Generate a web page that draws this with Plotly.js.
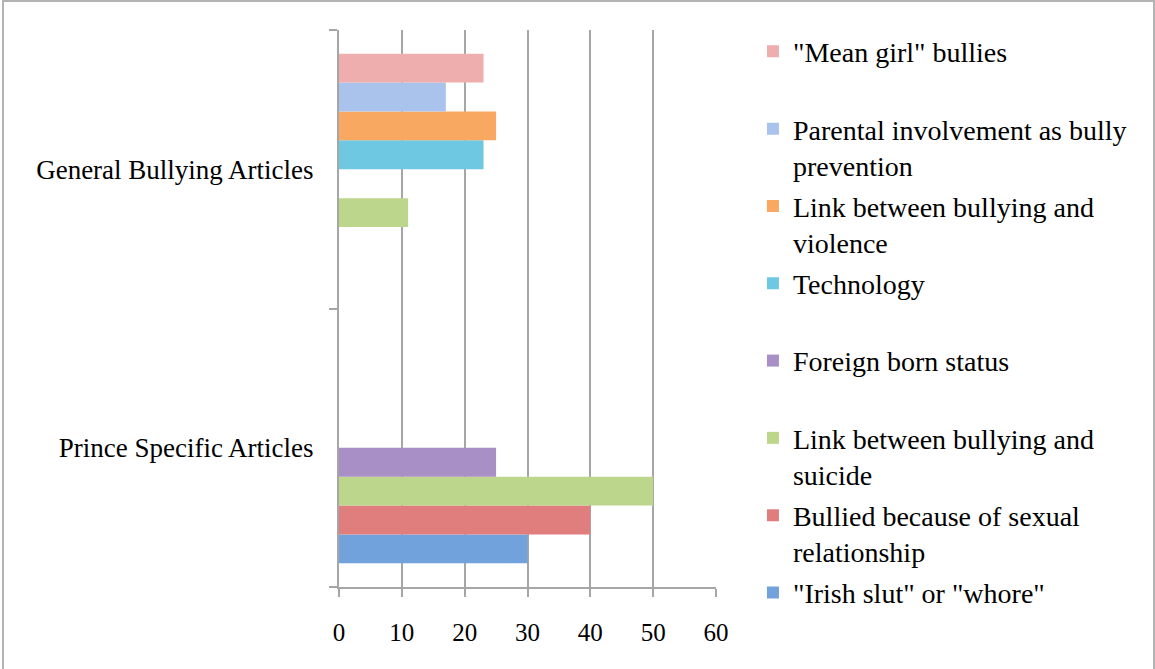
<!DOCTYPE html>
<html>
<head>
<meta charset="utf-8">
<script src="https://cdn.plot.ly/plotly-3.0.1.min.js"></script>
<style>
  html, body { margin: 0; padding: 0; background: #fff; overflow: hidden; }
  #chart { width: 1155px; height: 669px; }
  #frame { position: absolute; left: 2px; top: 0px; width: 1153px; height: 672px;
           border: 2px solid #b3b3b3; box-sizing: border-box; pointer-events: none; }
</style>
</head>
<body>
<div id="chart"></div>
<div id="frame"></div>
<script>
// Categories (bottom to top on the y axis)
const categories = ["Prince Specific Articles", "General Bullying Articles"];

// Series values per category: [Prince Specific, General Bullying]
const irishSlut          = [30, null];
const sexualRelationship = [40, null];
const suicideLink        = [50, 11];
const foreignBorn        = [25, null];
const technology         = [null, 23];
const violenceLink       = [null, 25];
const parentalInvolvement= [null, 17];
const meanGirl           = [null, 23];

// Legend labels
const seriesNames = [
  "\"Irish slut\" or \"whore\"",
  "Bullied because of sexual<br>relationship",
  "Link between bullying and<br>suicide",
  "Foreign born status",
  "Technology",
  "Link between bullying and<br>violence",
  "Parental involvement as bully<br>prevention",
  "\"Mean girl\" bullies"
];
const seriesValues = [irishSlut, sexualRelationship, suicideLink, foreignBorn,
                      technology, violenceLink, parentalInvolvement, meanGirl];
const seriesColors = ["#72a2dc", "#e07e7e", "#bcd68c", "#a88fc6",
                      "#6fc8e2", "#f9a862", "#aac3ec", "#efaeae"];

const font = "Liberation Serif, Times New Roman, serif";

const traces = seriesNames.map((name, i) => ({
  type: "bar",
  orientation: "h",
  name: name.indexOf("<br>") >= 0 ? name : name + "<br>&nbsp;",
  y: categories,
  x: seriesValues[i],
  marker: { color: seriesColors[i], line: { width: 0 } },
  legendgroup: "g" + i,
  legendrank: seriesNames.length - i,
  hoverinfo: "x+name"
}));

const layout = {
  width: 1155,
  height: 669,
  paper_bgcolor: "#ffffff",
  plot_bgcolor: "#ffffff",
  font: { family: font, size: 27, color: "#000000" },
  margin: { l: 339, r: 439, t: 30, b: 82, pad: 0 },
  barmode: "group",
  bargap: 0.17,
  bargroupgap: 0,
  showlegend: true,
  legend: {
    x: 1.098, xanchor: "left",
    y: 1.006, yanchor: "top",
    traceorder: "grouped",
    tracegroupgap: 1.5,
    valign: "top",
    maxheight: 669,
    font: { family: font, size: 28, color: "#000000" },
    bgcolor: "rgba(0,0,0,0)"
  },
  xaxis: {
    range: [0, 60],
    dtick: 10,
    tick0: 0,
    showgrid: true,
    gridcolor: "#a6a6a6",
    gridwidth: 2,
    zeroline: false,
    showline: true,
    linecolor: "#a6a6a6",
    linewidth: 2,
    ticks: "outside",
    ticklen: 8,
    tickwidth: 2,
    tickcolor: "#a6a6a6",
    ticklabelstandoff: 14,
    tickfont: { family: font, size: 25, color: "#000000" },
    fixedrange: true
  },
  yaxis: {
    type: "category",
    categoryorder: "array",
    categoryarray: categories,
    showgrid: false,
    zeroline: false,
    showline: true,
    linecolor: "#a6a6a6",
    linewidth: 2,
    ticks: "outside",
    tickson: "boundaries",
    ticklen: 8,
    tickwidth: 2,
    tickcolor: "#a6a6a6",
    ticklabelstandoff: 18,
    tickfont: { family: font, size: 27, color: "#000000" },
    fixedrange: true
  }
};

Plotly.newPlot("chart", traces, layout, { displayModeBar: false, staticPlot: true });
</script>
</body>
</html>
